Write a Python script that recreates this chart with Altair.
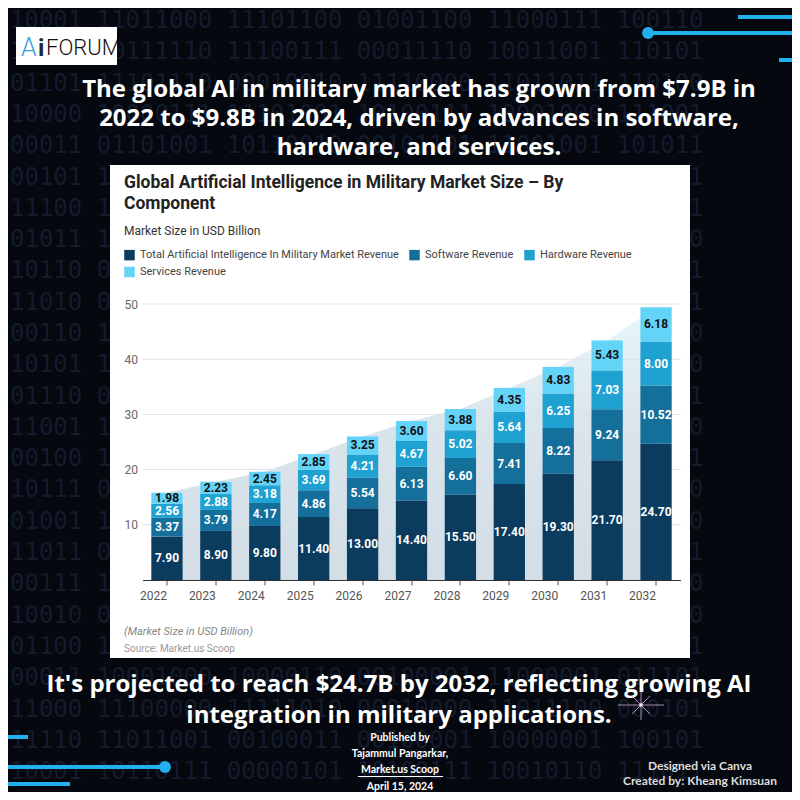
import altair as alt
import pandas as pd

# ---------------- data ----------------
years = ["2022", "2023", "2024", "2025", "2026", "2027", "2028", "2029", "2030", "2031", "2032"]
total_ai = [7.90, 8.90, 9.80, 11.40, 13.00, 14.40, 15.50, 17.40, 19.30, 21.70, 24.70]
software = [3.37, 3.79, 4.17, 4.86, 5.54, 6.13, 6.60, 7.41, 8.22, 9.24, 10.52]
hardware = [2.56, 2.88, 3.18, 3.69, 4.21, 4.67, 5.02, 5.64, 6.25, 7.03, 8.00]
services = [1.98, 2.23, 2.45, 2.85, 3.25, 3.60, 3.88, 4.35, 4.83, 5.43, 6.18]
series_names = [
    "Total Artificial Intelligence In Military Market Revenue",
    "Software Revenue",
    "Hardware Revenue",
    "Services Revenue",
]
series_colors = ["#0b3b5e", "#146f9a", "#1fa1d1", "#63d3f7"]
y_ticks = [10, 20, 30, 40, 50]

header_lines = [
    "The global AI in military market has grown from $7.9B in",
    "2022 to $9.8B in 2024, driven by advances in software,",
    "hardware, and services.",
]
footer_lines = [
    "It's projected to reach $24.7B by 2032, reflecting growing AI",
    "integration in military applications.",
]
published_lines = ["Published by", "Tajammul Pangarkar,", "Market.us Scoop", "April 15, 2024"]
designed_lines = ["Designed via Canva", "Created by: Kheang Kimsuan"]
chart_title = ["Global Artificial Intelligence in Military Market Size \u2013 By", "Component"]

binary_rows = [
    "10001  11011000  11101100  01001100  11000111  100110",
    "10011  00111110  11100111  00011110  10011001  110101",
    "01101  11101110  00010010  11110000  11011011  110100",
    "10000  10000111  11101001  10100111  10001000  111001",
    "00011  01101001  10110010  00101101  11001001  101011",
    "00101  11000011  01010110  11110001  00111010  011011",
    "11100  10010111  00011101  10101010  11100010  001101",
    "01011  11100100  10110001  01001111  10010110  110010",
    "10110  00101011  11001110  10010001  01110101  100001",
    "11010  01110010  00101101  11100110  10101001  010111",
    "00110  10011101  11010010  00111001  11001110  101000",
    "10101  11010100  01101011  10011100  00110101  111010",
    "01110  00110110  10100111  11001010  10011011  001011",
    "11001  10101001  01110100  00110111  11100001  100110",
    "00100  11110010  10011011  01101000  10101110  011101",
    "10111  01001110  11100010  10110101  01001101  110100",
    "01001  10110101  00111010  11010110  10110011  001010",
    "11011  00011011  10101101  01110011  11010100  101101",
    "00111  11101001  01001110  10001101  00101111  110010",
    "10010  01111010  11011001  00101110  10100110  011100",
    "01100  11010110  10001111  11101001  10011010  110001",
    "00011  10001000  10000110  00100001  11000001  011101",
    "11000  11100000  11111010  00010000  11011100  000101",
    "11110  11011001  00100011  00100001  10000001  100101",
    "10001  10110111  00000101  10100111  10010110  111011",
]

# ---------------- tables ----------------
rows = []
for i, yr in enumerate(years):
    vals = [total_ai[i], software[i], hardware[i], services[i]]
    start = 0.0
    for k, name in enumerate(series_names):
        end = start + vals[k]
        rows.append({"year": yr, "series": name, "start": start, "end": end,
                     "mid": (start + end) / 2, "lab": f"{vals[k]:.2f}", "top": k == 3})
        start = end
long_df = pd.DataFrame(rows)
tot_df = pd.DataFrame({"year": years,
                       "total": [a + b + c + d for a, b, c, d in zip(total_ai, software, hardware, services)]})
grid_df = pd.DataFrame({"v": y_ticks})
one = pd.DataFrame({"k": [0]})

# ---------------- layout (image coordinates -> plot coordinates) ----------------
W, H = 538, 276
OX, OY = 142.5, 304.0
BG = "#05080e"


def px(X):
    return X - OX


def py(Y):
    return Y - OY


def text_layer(lines, X, Yc, size, color, weight="normal", font="Roboto", align="left",
               style="normal", lh=None):
    return alt.Chart(one).mark_text(
        align=align, baseline="top", font=font, fontSize=size, fontWeight=weight,
        fontStyle=style, color=color, lineHeight=lh or size * 1.2
    ).encode(x=alt.value(px(X)), y=alt.value(py(Yc - 0.43 * size)), text=alt.value(lines))


def hline(X1, X2, Y, color, width):
    return alt.Chart(one).mark_rule(color=color, strokeWidth=width).encode(
        x=alt.value(px(X1)), x2=alt.value(px(X2)), y=alt.value(py(Y)))


def seg(X1, Y1, X2, Y2, color, width, opacity=1.0):
    return alt.Chart(one).mark_rule(color=color, strokeWidth=width, opacity=opacity).encode(
        x=alt.value(px(X1)), x2=alt.value(px(X2)), y=alt.value(py(Y1)), y2=alt.value(py(Y2)))


def dot(X, Y, color, size):
    return alt.Chart(one).mark_circle(color=color, size=size, opacity=1).encode(
        x=alt.value(px(X)), y=alt.value(py(Y)))


def box(X1, X2, Y1, Y2, color):
    return alt.Chart(one).mark_rect(color=color).encode(
        x=alt.value(px(X1)), x2=alt.value(px(X2)), y=alt.value(py(Y1)), y2=alt.value(py(Y2)))


CYAN = "#22b0f0"

# background binary
binary = alt.Chart(one).mark_text(
    align="left", baseline="top", font="DejaVu Sans Mono", fontSize=24,
    color="#131b2d", lineHeight=31.3
).encode(x=alt.value(px(10)), y=alt.value(py(9)), text=alt.value(binary_rows))

# chart parts
xscale = alt.Scale(paddingInner=0.36, paddingOuter=0.18)
yscale = alt.Scale(domain=[0, 50], nice=False)

area = alt.Chart(tot_df).mark_area(
    color=alt.Gradient(
        gradient="linear",
        stops=[alt.GradientStop(color="#d3dde6", offset=0),
               alt.GradientStop(color="#dbe5ec", offset=0.6),
               alt.GradientStop(color="#e8f7fd", offset=1)],
        x1=1, x2=1, y1=1, y2=0)
).encode(x=alt.X("year:O", scale=xscale), y=alt.Y("total:Q", scale=yscale))

grid = alt.Chart(grid_df).mark_rule(color="#dde2e6", strokeWidth=1).encode(
    y=alt.Y("v:Q", scale=yscale))

bars = alt.Chart(long_df).mark_bar().encode(
    x=alt.X("year:O", scale=xscale,
            axis=alt.Axis(title=None, labelAngle=0, labelFontSize=12, labelColor="#555",
                          labelFont="Roboto", tickColor="#555", tickSize=5,
                          domainColor="#333", domainWidth=1.2, labelPadding=10, zindex=1)),
    y=alt.Y("start:Q", scale=yscale,
            axis=alt.Axis(title=None, values=y_ticks, labelFontSize=12, labelColor="#666",
                          labelFont="Roboto", ticks=False, domain=False, grid=False,
                          labelPadding=5, zindex=1)),
    y2="end:Q",
    color=alt.Color("series:N", scale=alt.Scale(domain=series_names, range=series_colors),
                    legend=alt.Legend(title=None, orient="none", legendX=px(124), legendY=py(249.5),
                                      direction="horizontal", columns=3, symbolType="square",
                                      symbolSize=110, symbolStrokeWidth=0, labelFontSize=11,
                                      labelColor="#444", labelFont="Roboto", columnPadding=10,
                                      rowPadding=5, labelOffset=5, labelLimit=500, zindex=1,
                                      padding=0)),
)

labels = alt.Chart(long_df).mark_text(font="Roboto", fontSize=12, fontWeight="bold").encode(
    x=alt.X("year:O", scale=xscale),
    y=alt.Y("mid:Q", scale=yscale),
    text="lab:N",
    color=alt.condition("datum.top", alt.value("#111111"), alt.value("#ffffff")),
)

layers = [
    binary,
    # top-right decorative lines
    hline(738, 800, 17, CYAN, 4),
    hline(648, 800, 33, CYAN, 4),
    hline(779, 800, 60, CYAN, 4),
    dot(648, 33, CYAN, 140),
    # logo
    box(16, 117, 27, 65, "#ffffff"),
    text_layer(["A"], 21, 47, 25, "#3a9de0", weight=300, font="Roboto"),
    text_layer(["i"], 38, 47, 24, "#1b2a3a", weight="bold", font="Roboto"),
    text_layer(["FORUM"], 46, 47, 22, "#111111", weight=300, font="Roboto"),
    # header
    text_layer(header_lines, 419, 88.5, 24, "#ffffff", weight="bold", font="Open Sans", align="center", lh=29),
    # card
    box(110, 690, 165, 658, "#ffffff"),
    text_layer(chart_title, 124, 182, 17.5, "#222222", weight="bold", font="Roboto", lh=21),
    text_layer(["Market Size in USD Billion"], 124, 231, 12, "#333333", font="Roboto"),
    area, grid, bars, labels,
    text_layer(["(Market Size in USD Billion)"], 124, 631, 11, "#888888", font="Roboto", style="italic"),
    text_layer(["Source: Market.us Scoop"], 124, 648, 10, "#999999", font="Roboto"),
    # footer
    text_layer(footer_lines, 399, 683, 24, "#ffffff", weight="bold", font="Open Sans", align="center", lh=31),
    text_layer(published_lines, 400, 737.5, 10.5, "#ffffff", weight="bold", font="Lato", align="center", lh=16.2),
    hline(358, 443, 776.5, "#ffffff", 1),
    text_layer(designed_lines, 700, 766, 12, "#dddddd", weight="bold", font="Lato", align="center", lh=15),
    # bottom-left lines
    hline(0, 28, 737, CYAN, 4),
    hline(0, 165, 767, CYAN, 4),
    hline(0, 70, 784, CYAN, 4),
    dot(165, 767, CYAN, 140),
    # sparkle
    seg(618, 705, 664, 705, "#e8c0f0", 1, 0.7),
    seg(641, 690, 641, 720, "#e8c0f0", 1, 0.7),
    seg(632, 696, 650, 714, "#d8a8f0", 1, 0.8),
    seg(632, 714, 650, 696, "#d8a8f0", 1, 0.8),
    dot(641, 705, "#ffffff", 12),
]

chart = alt.layer(*layers).properties(
    width=W, height=H,
    padding={"left": OX - 8, "top": OY - 8, "right": 784 - (OX - 8) - W, "bottom": 784 - (OY - 8) - H},
    autosize=alt.AutoSizeParams(type="none"),
    background=BG,
).configure_view(stroke=None)

chart.save("out.html", embed_options={"renderer": "svg", "actions": False})
